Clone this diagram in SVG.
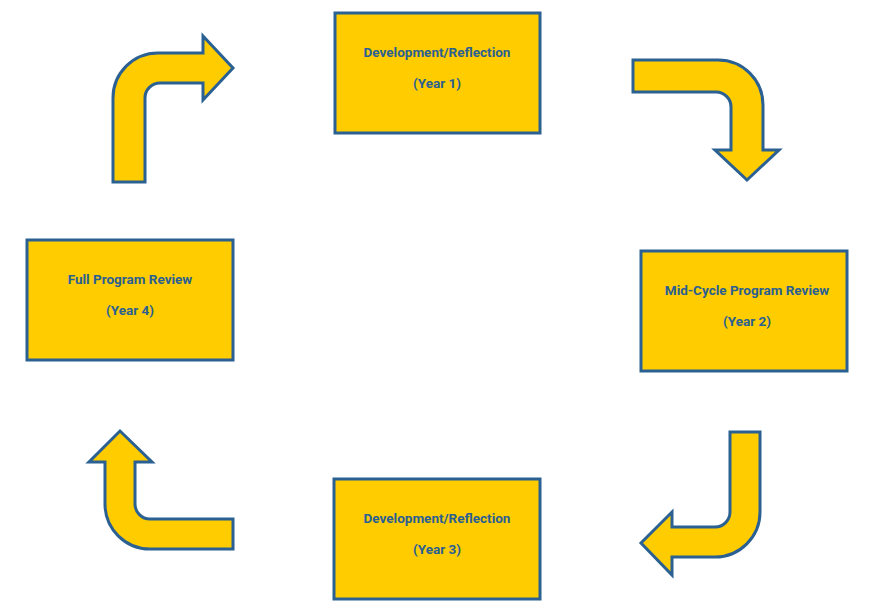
<svg xmlns="http://www.w3.org/2000/svg" width="878" height="612" viewBox="0 0 878 612">
<style>
.b{fill:#ffcc00;stroke:#2a6092;stroke-width:3}
.a{fill:#ffcc00;stroke:#2a6092;stroke-width:3;stroke-linejoin:miter}
text{font-family:Roboto,"DejaVu Sans",sans-serif;font-weight:bold;font-size:13.5px;fill:#2a6092;text-anchor:middle}
</style>
<rect width="878" height="612" fill="#fff"/>
<g id="n1"><rect class="b" x="335" y="13" width="205" height="120"/><text x="437" y="57">Development/Reflection</text><text x="437" y="88">(Year 1)</text></g>
<g id="n2"><rect class="b" x="641" y="251" width="206" height="120"/><text x="747" y="295">Mid-Cycle Program Review</text><text x="747" y="326">(Year 2)</text></g>
<g id="n3"><rect class="b" x="334" y="479" width="206" height="120"/><text x="437" y="523">Development/Reflection</text><text x="437" y="554">(Year 3)</text></g>
<g id="n4"><rect class="b" x="27" y="240" width="206" height="120"/><text x="130" y="284">Full Program Review</text><text x="130" y="315">(Year 4)</text></g>
<g id="connectors">
<path class="a" d="M113,182 L113,98 A45,45 0 0 1 158,53 L203,53 L203,36 L233,68 L203,100 L203,83 L160,83 A15,15 0 0 0 145,98 L145,182 Z"/>
<path class="a" d="M633,60 L718,60 A45,45 0 0 1 763,105 L763,150 L779,150 L747,180 L715,150 L731,150 L731,107 A15,15 0 0 0 716,92 L633,92 Z"/>
<path class="a" d="M730,432 L760,432 L760,512 A45,45 0 0 1 715,557 L672,557 L672,575 L641,543 L672,512 L672,527 L715,527 A15,15 0 0 0 730,512 Z"/>
<path class="a" d="M233,519 L150,519 A15,15 0 0 1 135,504 L135,462 L152,462 L120,431 L89,462 L105,462 L105,504 A45,45 0 0 0 150,549 L233,549 Z"/>
</g>
</svg>
